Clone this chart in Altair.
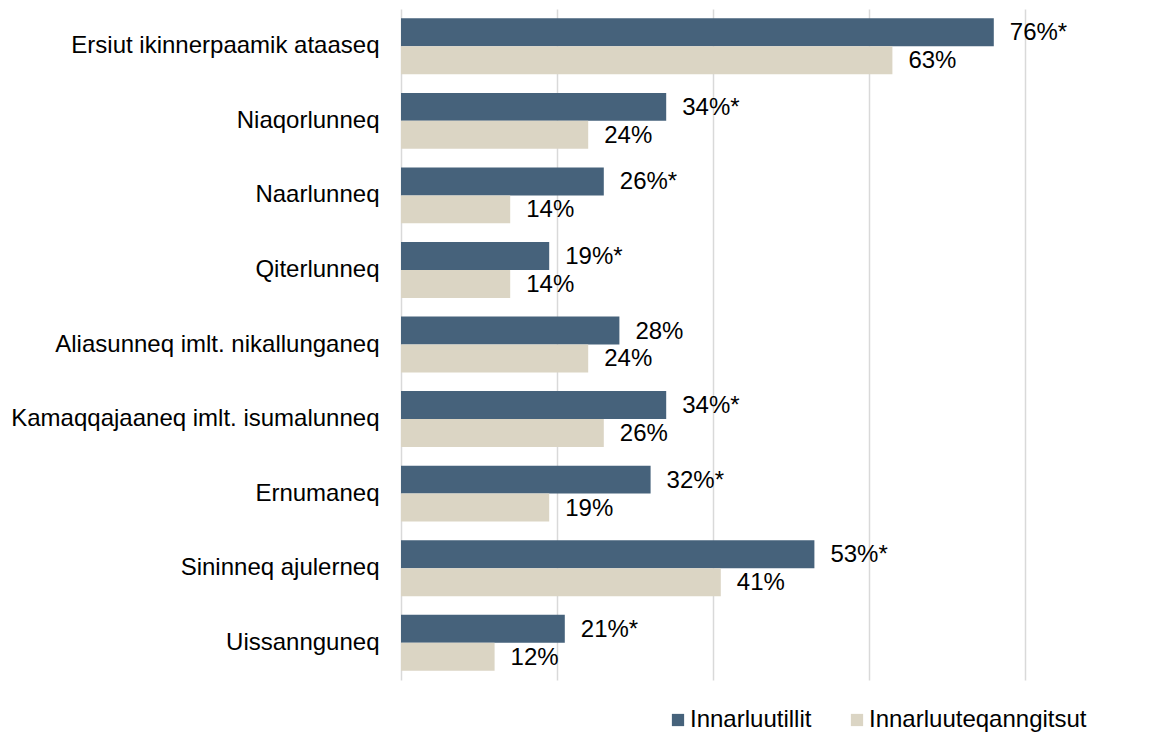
import altair as alt
import pandas as pd

categories = [
    "Ersiut ikinnerpaamik ataaseq",
    "Niaqorlunneq",
    "Naarlunneq",
    "Qiterlunneq",
    "Aliasunneq imlt. nikallunganeq",
    "Kamaqqajaaneq imlt. isumalunneq",
    "Ernumaneq",
    "Sininneq ajulerneq",
    "Uissannguneq",
]
series = ["Innarluutillit", "Innarluuteqanngitsut"]
with_disability = [76, 34, 26, 19, 28, 34, 32, 53, 21]
without_disability = [63, 24, 14, 14, 24, 26, 19, 41, 12]
significant = [True, True, True, True, False, True, True, True, True]
colors = ["#46627b", "#dbd5c4"]

rows = []
for i, c in enumerate(categories):
    rows.append({"cat": c, "series": series[0], "value": with_disability[i],
                 "label": f"{with_disability[i]}%" + ("*" if significant[i] else "")})
    rows.append({"cat": c, "series": series[1], "value": without_disability[i],
                 "label": f"{without_disability[i]}%"})
df = pd.DataFrame(rows)

FONT = "Liberation Sans"
FS = 24

y_enc = alt.Y("cat:N", sort=categories, title=None,
              scale=alt.Scale(paddingInner=0.25, paddingOuter=0.125),
              axis=alt.Axis(ticks=False, domain=False, labelFontSize=FS, labelFont=FONT,
                            labelColor="#000000", labelPadding=22, labelLimit=600))
yoff = alt.YOffset("series:N", sort=series)
x_enc = alt.X("value:Q", title=None, scale=alt.Scale(domain=[0, 80], nice=False),
              axis=alt.Axis(values=[0, 20, 40, 60, 80], labels=False, ticks=False, domain=False,
                            grid=True, gridColor="#d9d9d9", gridWidth=1.5))

bars = alt.Chart(df).mark_bar().encode(
    x=x_enc,
    y=y_enc,
    yOffset=yoff,
    color=alt.Color("series:N", sort=series,
                    scale=alt.Scale(domain=series, range=colors),
                    legend=alt.Legend(title=None, orient="none", legendX=265, legendY=699,
                                      direction="horizontal", symbolType="square",
                                      symbolSize=150, symbolStrokeWidth=0,
                                      labelFontSize=FS, labelFont=FONT, labelColor="#000000",
                                      labelOffset=0, columnPadding=33, labelLimit=600)),
)

text = alt.Chart(df).mark_text(align="left", baseline="middle", dx=16, dy=1, fontSize=FS,
                               font=FONT, color="#000000").encode(
    x="value:Q",
    y=alt.Y("cat:N", sort=categories),
    yOffset=yoff,
    text="label:N",
)

chart = (bars + text).properties(
    width=624, height=671,
    padding={"left": 2, "top": 1, "right": 5, "bottom": 5},
).configure_view(stroke=None)
chart.save("out.html", embed_options={"renderer": "svg", "actions": False})
